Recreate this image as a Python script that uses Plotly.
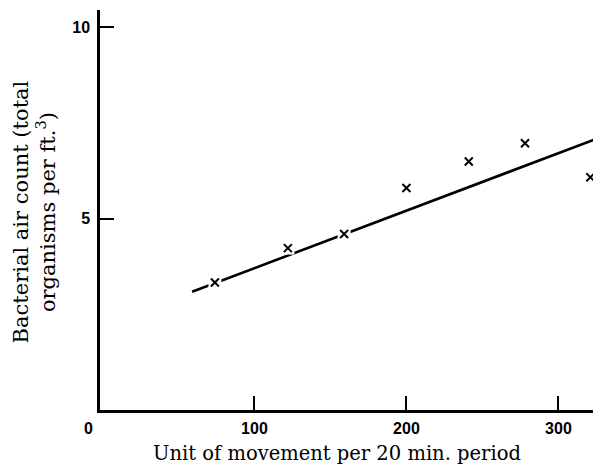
import plotly.graph_objects as go

# Observed points
movement = [74, 122, 159, 200, 241, 278, 321]
air_count = [3.33, 4.23, 4.60, 5.80, 6.49, 6.97, 6.08]

# Fitted regression line (end points)
fit_x = [59, 326]
fit_y = [3.09, 7.10]

x_ticks = [100, 200, 300]
y_ticks = [5, 10]

fig = go.Figure()
fig.add_trace(go.Scatter(x=fit_x, y=fit_y, mode="lines",
                         line=dict(color="black", width=2.6), showlegend=False))
# white halo so the line appears broken around the crosses
fig.add_trace(go.Scatter(x=movement, y=air_count, mode="markers",
                         marker=dict(symbol="square", size=13, color="white", line=dict(width=0)),
                         showlegend=False))
fig.add_trace(go.Scatter(x=movement, y=air_count, mode="markers",
                         marker=dict(symbol="x-thin", size=8, line=dict(color="black", width=2)),
                         showlegend=False))

tickfont = dict(family="Liberation Sans", size=16, color="black", weight="bold")
fig.update_xaxes(range=[-1.6, 328], tickvals=x_ticks, ticks="inside", ticklen=14, tickwidth=2,
                 tickcolor="black", showline=True, linecolor="black", linewidth=2.5,
                 showgrid=False, zeroline=False, tickfont=tickfont, ticklabelstandoff=2)
fig.update_yaxes(range=[0, 10.45], tickvals=y_ticks, ticks="inside", ticklen=14, tickwidth=2,
                 tickcolor="black", showline=True, linecolor="black", linewidth=2.5,
                 showgrid=False, zeroline=False, tickfont=tickfont, ticklabelstandoff=4)

fig.add_annotation(text="0", x=0, y=0, xref="x", yref="y", xshift=-14, yshift=-18,
                   showarrow=False, font=tickfont)
fig.add_annotation(text="Unit of movement per 20 min. period", xref="paper", yref="paper",
                   x=0.474, y=0, yshift=-43, yanchor="middle", showarrow=False,
                   font=dict(family="DejaVu Serif", size=19.5, color="black"))
fig.add_annotation(text="Bacterial air count (total<br>organisms per ft.<sup>3</sup>)",
                   xref="paper", yref="paper", x=0, xshift=-66, y=0.494,
                   xanchor="center", yanchor="middle", textangle=-90,
                   showarrow=False, align="center",
                   font=dict(family="DejaVu Serif", size=21, color="black"))

# page body has an 8px margin, so the figure is drawn 8px smaller
fig.update_layout(width=593, height=464, margin=dict(l=92, r=0, t=2, b=62),
                  plot_bgcolor="white", paper_bgcolor="white")
fig.write_html("out.html")
